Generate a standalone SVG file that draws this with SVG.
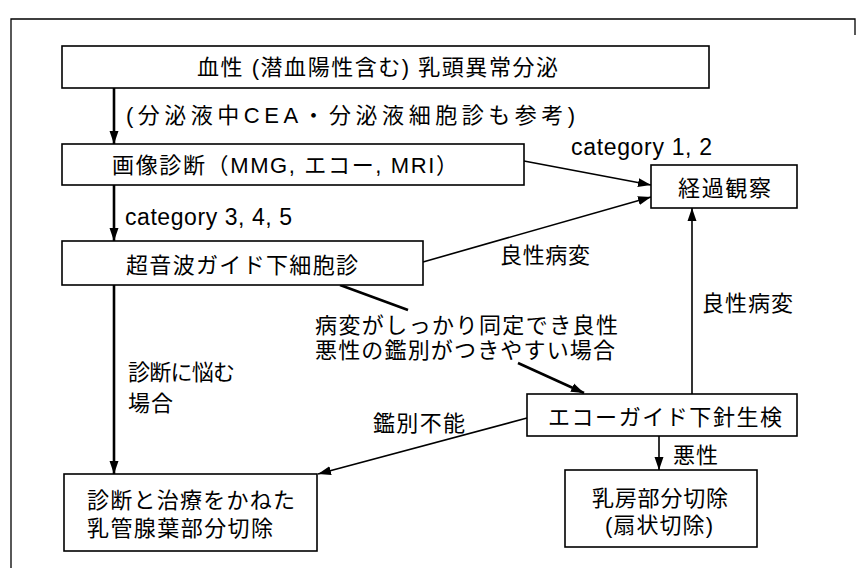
<svg xmlns="http://www.w3.org/2000/svg" width="858" height="568" viewBox="0 0 858 568">
<defs>
<style>
.box{fill:#fff;stroke:#000;stroke-width:1.6}
.t{font-family:"Liberation Sans","Noto Sans CJK JP",sans-serif;font-size:22px;fill:#000}
.lat{font-family:"Liberation Sans","Noto Sans CJK JP",sans-serif;font-size:23px;fill:#000}
.c{fill:none;stroke:#000;stroke-width:1.6}
.thick{stroke-width:2.6}
</style>
<marker id="ah" markerUnits="userSpaceOnUse" markerWidth="14" markerHeight="10" refX="13" refY="5" orient="auto">
<path d="M0,0.5 L13,5 L0,9.5 Z" fill="#000"/>
</marker>
</defs>
<rect width="858" height="568" fill="#fff"/>
<path d="M11,568 V19 H855 V35" fill="none" stroke="#000" stroke-width="1.3"/>

<g id="connectors">
<line class="c thick" x1="114" y1="88" x2="114" y2="144" marker-end="url(#ah)"/>
<line class="c thick" x1="114" y1="185" x2="114" y2="241" marker-end="url(#ah)"/>
<line class="c thick" x1="114" y1="285" x2="114" y2="474" marker-end="url(#ah)"/>
<line class="c" x1="524" y1="161" x2="651" y2="185" marker-end="url(#ah)"/>
<line class="c" x1="423" y1="262" x2="651" y2="197" marker-end="url(#ah)"/>
<line class="c thick" x1="340" y1="285" x2="408" y2="310"/>
<line class="c thick" x1="518" y1="363" x2="584" y2="393" marker-end="url(#ah)"/>
<line class="c" x1="692" y1="394" x2="692" y2="208" marker-end="url(#ah)"/>
<line class="c" x1="659" y1="436" x2="659" y2="470" marker-end="url(#ah)"/>
<line class="c" x1="527" y1="418" x2="318" y2="474" marker-end="url(#ah)"/>
<text class="t" x="126" y="123" textLength="449">(分泌液中CEA・分泌液細胞診も参考)</text>
<text class="lat" x="125" y="225" textLength="167">category 3, 4, 5</text>
<text class="lat" x="571" y="155" textLength="141">category 1, 2</text>
<text class="t" x="500" y="263" textLength="90">良性病変</text>
<text class="t" x="315" y="333" textLength="303">病変がしっかり同定でき良性</text>
<text class="t" x="315" y="358" textLength="300">悪性の鑑別がつきやすい場合</text>
<text class="t" x="702" y="311" textLength="91">良性病変</text>
<text class="t" x="128" y="380" textLength="107">診断に悩む</text>
<text class="t" x="128" y="411" textLength="45">場合</text>
<text class="t" x="373" y="431" textLength="92">鑑別不能</text>
<text class="t" x="673" y="463" textLength="45">悪性</text>
</g>

<g id="n1">
<rect class="box" x="62" y="46" width="647" height="42"/>
<text class="t" x="197" y="75" textLength="361">血性 (潜血陽性含む) 乳頭異常分泌</text>
</g>
<g id="n2">
<rect class="box" x="62" y="144" width="462" height="41"/>
<text class="t" x="112" y="173" textLength="346">画像診断（MMG, エコー, MRI）</text>
</g>
<g id="n3">
<rect class="box" x="62" y="241" width="361" height="44"/>
<text class="t" x="126" y="273" textLength="232">超音波ガイド下細胞診</text>
</g>
<g id="n4">
<rect class="box" x="651" y="165" width="146" height="43"/>
<text class="t" x="678" y="196" textLength="93">経過観察</text>
</g>
<g id="n5">
<rect class="box" x="527" y="394" width="270" height="42"/>
<text class="t" x="548" y="425" textLength="234">エコーガイド下針生検</text>
</g>
<g id="n6">
<rect class="box" x="64" y="474" width="253" height="77"/>
<text class="t" x="87" y="508" textLength="208">診断と治療をかねた</text>
<text class="t" x="87" y="536" textLength="186">乳管腺葉部分切除</text>
</g>
<g id="n7">
<rect class="box" x="565" y="470" width="192" height="77"/>
<text class="t" x="592" y="506" textLength="136">乳房部分切除</text>
<text class="t" x="605" y="533" textLength="108">(扇状切除)</text>
</g>
</svg>
